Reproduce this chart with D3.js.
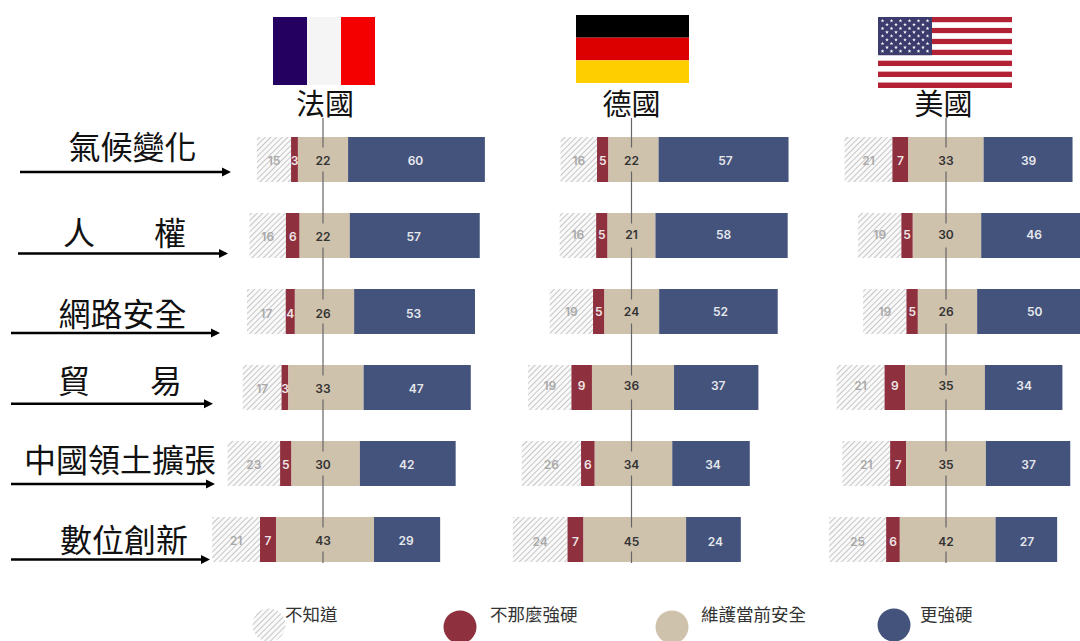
<!DOCTYPE html>
<html lang="zh-Hant">
<head>
<meta charset="utf-8">
<script src="https://cdn.jsdelivr.net/npm/d3@7"></script>
<style>
  html, body { margin: 0; padding: 0; background: #fff; }
  svg { display: block; }
  text { font-family: "Noto Sans CJK TC", "Noto Sans", sans-serif; }
  .value { font-family: Inter, "Noto Sans", sans-serif; font-weight: 600; font-size: 12px; }
</style>
</head>
<body>
<svg id="chart" width="1080" height="641" viewBox="0 0 1080 641"></svg>
<script>
// Survey data: share of respondents per policy topic and country
const topics = ["氣候變化", "人權", "網路安全", "貿易", "中國領土擴張", "數位創新"];
const countries = ["法國", "德國", "美國"];
const answers = ["不知道", "不那麼強硬", "維護當前安全", "更強硬"];

const franceDontKnow = [15, 16, 17, 17, 23, 21];
const franceLess = [3, 6, 4, 3, 5, 7];
const franceKeep = [22, 22, 26, 33, 30, 43];
const franceMore = [60, 57, 53, 47, 42, 29];

const germanyDontKnow = [16, 16, 19, 19, 26, 24];
const germanyLess = [5, 5, 5, 9, 6, 7];
const germanyKeep = [22, 21, 24, 36, 34, 45];
const germanyMore = [57, 58, 52, 37, 34, 24];

const usaDontKnow = [21, 19, 19, 21, 21, 25];
const usaLess = [7, 5, 5, 9, 7, 6];
const usaKeep = [33, 30, 26, 35, 35, 42];
const usaMore = [39, 46, 50, 34, 37, 27];

const seriesByCountry = [
  [franceDontKnow, franceLess, franceKeep, franceMore],
  [germanyDontKnow, germanyLess, germanyKeep, germanyMore],
  [usaDontKnow, usaLess, usaKeep, usaMore]
];

// Layout
const RED = "#8e303e", TAN = "#cfc2ad", BLUE = "#44537b";
const panelAxis = [323, 631.5, 946];
const rowNudge = [
  [0, 1.7, 1.5, 3, 2.7, 2],
  [2, 0, 0.3, 1.5, 2, 3.3],
  [0, 1, 1.5, -1, 0, 1.7]
];
const labelShift = [
  [1.2, 1.5, 2.2, 1.2, 1.2, 1.2],
  [1, -0.5, 0.5, -1.5, 1.5, 2.5],
  [1, -0.5, 0.5, -1.5, 1.5, 2.5]
];
const blueLabelShift = [-1, 2, 0.5];

const svg = d3.select("#chart");
const defs = svg.append("defs");

const hatch = defs.append("pattern")
  .attr("id", "hatch").attr("patternUnits", "userSpaceOnUse")
  .attr("width", 4).attr("height", 4)
  .attr("patternTransform", "rotate(45)");
hatch.append("rect").attr("width", 4).attr("height", 4).attr("fill", "#fafafa");
hatch.append("line").attr("x1", 0).attr("y1", 0).attr("x2", 0).attr("y2", 4)
  .attr("stroke", "#c6c6c6").attr("stroke-width", 2);

const fills = ["url(#hatch)", RED, TAN, BLUE];
const labelFills = ["#a9a9a9", "#f0e6e6", "#333333", "#e6e8ee"];

const y = d3.scaleBand().domain(topics).range([137, 562]).paddingInner(0.408);
const width = d3.scaleLinear().domain([0, 100]).range([0, 228]);
const stack = d3.stack().keys(d3.range(4));

seriesByCountry.forEach((series, c) => {
  const rows = topics.map((t, i) => series.map(s => s[i]));
  const layers = stack(rows);
  const g = svg.append("g");

  // Each row is positioned so the "keep" segment straddles the panel axis
  const origin = i => {
    const mid = (layers[2][i][0] + layers[2][i][1]) / 2;
    return panelAxis[c] + rowNudge[c][i] - width(mid);
  };

  layers.forEach((layer, k) => {
    g.append("g").selectAll("rect").data(layer).join("rect")
      .attr("x", (d, i) => origin(i) + width(d[0]))
      .attr("y", (d, i) => y(topics[i]))
      .attr("width", d => width(d[1] - d[0]))
      .attr("height", y.bandwidth())
      .attr("fill", fills[k]);
  });

  // Axis line, broken around the centre value of each row
  const centres = topics.map(t => y(t) + y.bandwidth() / 2);
  const stops = [118, ...centres, 563];
  const axis = g.append("g").attr("stroke", "#666").attr("stroke-width", 1.2);
  d3.pairs(stops).forEach(([a, b], i) => {
    axis.append("line")
      .attr("x1", panelAxis[c]).attr("x2", panelAxis[c])
      .attr("y1", i === 0 ? a : a + 12)
      .attr("y2", i === stops.length - 2 ? b : b - 12);
  });

  layers.forEach((layer, k) => {
    g.append("g").selectAll("text").data(layer).join("text")
      .attr("class", "value")
      .attr("x", (d, i) => k === 2
        ? panelAxis[c]
        : origin(i) + width((d[0] + d[1]) / 2) + (k === 3 ? blueLabelShift[c] : 0))
      .attr("y", (d, i) => centres[i] + labelShift[c][i])
      .attr("dy", "0.35em")
      .attr("text-anchor", "middle")
      .attr("fill", labelFills[k])
      .text(d => d[1] - d[0]);
  });
});

// Country titles
const titleX = [325, 631.5, 943.5];
svg.append("g").selectAll("text").data(countries).join("text")
  .attr("x", (d, i) => titleX[i]).attr("y", 105)
  .attr("dy", "0.36em").attr("text-anchor", "middle")
  .attr("font-size", 29).attr("font-weight", 400).attr("fill", "#111")
  .text(d => d);

// Flags
function stripes(x0, y0, w, h, colours, vertical) {
  colours.forEach((col, i) => {
    const n = colours.length;
    svg.append("rect")
      .attr("x", vertical ? x0 + i * w / n : x0)
      .attr("y", vertical ? y0 : y0 + i * h / n)
      .attr("width", vertical ? w / n : w)
      .attr("height", vertical ? h : h / n)
      .attr("fill", col);
  });
}
stripes(273, 17, 102, 68, ["#240060", "#f5f5f5", "#f50000"], true);
stripes(576, 15, 113, 68, ["#000000", "#dd0000", "#ffce00"], false);
stripes(878, 17, 134, 71, d3.range(13).map(i => i % 2 ? "#ffffff" : "#b22234"), false);
svg.append("rect").attr("x", 878).attr("y", 17).attr("width", 54).attr("height", 38.2).attr("fill", "#3c3b6e");
const star = d3.symbol().type(d3.symbolStar).size(4.5);
d3.range(9).forEach(r => {
  const n = r % 2 ? 5 : 6;
  d3.range(n).forEach(s => {
    svg.append("path").attr("d", star()).attr("fill", "#fff")
      .attr("transform", `translate(${878 + (r % 2 ? 9 : 4.5) + s * 9},${17 + 3.8 * (r + 1)})`);
  });
});

// Topic labels with their arrows
const topicLabels = [
  { text: ["氣候變化"], x: [132.5], y: 147, from: 20, to: 231, line: 172 },
  { text: ["人", "權"], x: [79, 170], y: 233, from: 18, to: 228, line: 253.5 },
  { text: ["網路安全"], x: [122.5], y: 314, from: 11, to: 220, line: 333 },
  { text: ["貿", "易"], x: [74, 166], y: 381, from: 11, to: 213, line: 403.7 },
  { text: ["中國領土擴張"], x: [120], y: 460, from: 11, to: 215, line: 484 },
  { text: ["數位創新"], x: [124], y: 540, from: 11, to: 210, line: 559.5 }
];
topicLabels.forEach(d => {
  d.text.forEach((s, i) => {
    svg.append("text").attr("x", d.x[i]).attr("y", d.y)
      .attr("dy", "0.36em").attr("text-anchor", "middle")
      .attr("font-size", 32).attr("font-weight", 400).attr("fill", "#111")
      .text(s);
  });
  svg.append("line").attr("x1", d.from).attr("x2", d.to - 6)
    .attr("y1", d.line).attr("y2", d.line)
    .attr("stroke", "#000").attr("stroke-width", 2.5);
  svg.append("path")
    .attr("d", d3.line()([[d.to - 9, d.line - 4.5], [d.to, d.line], [d.to - 9, d.line + 4.5]]) + "Z")
    .attr("fill", "#000");
});

// Legend
const legendDots = [[269, 625], [460, 627], [672, 627], [894, 625]];
const legendText = [[285, 615], [490, 615], [701, 615], [920, 615]];
const legend = svg.append("g");
legend.selectAll("circle").data(answers).join("circle")
  .attr("cx", (d, i) => legendDots[i][0]).attr("cy", (d, i) => legendDots[i][1])
  .attr("r", 16.5).attr("fill", (d, i) => fills[i]);
legend.selectAll("text").data(answers).join("text")
  .attr("x", (d, i) => legendText[i][0]).attr("y", (d, i) => legendText[i][1])
  .attr("dy", "0.36em")
  .attr("font-size", 17.5).attr("font-weight", 400).attr("fill", "#333")
  .text(d => d);
</script>
</body>
</html>
